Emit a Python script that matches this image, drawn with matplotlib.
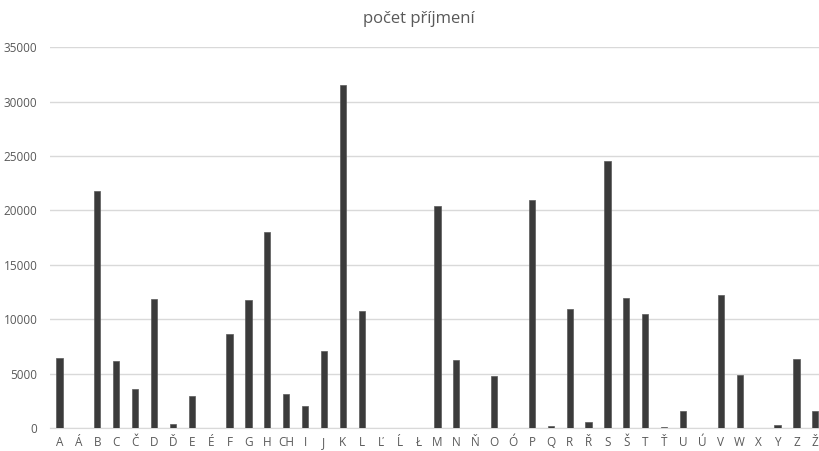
import numpy as np
import matplotlib.pyplot as plt

plt.rcParams['font.family'] = ['Open Sans', 'DejaVu Sans']

# pocet prijmeni podle pocatecniho pismene
pismena = ['A', 'Á', 'B', 'C', 'Č', 'D', 'Ď', 'E', 'É', 'F', 'G', 'H', 'CH', 'I', 'J',
           'K', 'L', 'Ľ', 'Ĺ', 'Ł', 'M', 'N', 'Ň', 'O', 'Ó', 'P', 'Q', 'R', 'Ř', 'S',
           'Š', 'T', 'Ť', 'U', 'Ú', 'V', 'W', 'X', 'Y', 'Z', 'Ž']
pocty = [6400, 0, 21800, 6150, 3550, 11850, 350, 2950, 0, 8670, 11730, 18000, 3100, 2000, 7050,
         31500, 10800, 0, 0, 0, 20430, 6250, 0, 4750, 0, 20920, 180, 10900, 520, 24570,
         11920, 10450, 90, 1560, 20, 12250, 4840, 0, 270, 6340, 1560]
yticky = [0, 5000, 10000, 15000, 20000, 25000, 30000, 35000]

seda = '#595959'

fig = plt.figure(figsize=(8.2, 4.51), dpi=100)
ax = fig.add_axes([50/820, 23/451, 774.8/820, 380.7/451])

x = np.arange(len(pismena))
ax.bar(x, pocty, width=0.33, color='#3b3b3b', edgecolor='#5a5a5a', linewidth=0.5, zorder=3)

ax.set_xlim(-0.5, len(pismena) - 0.5)
ax.set_ylim(0, 35000)
ax.set_yticks(yticky)
ax.set_yticklabels([str(v) for v in yticky])
ax.set_xticks(x)
ax.set_xticklabels(pismena)
ax.tick_params(axis='both', length=0, labelsize=8.5, colors=seda)
ax.tick_params(axis='y', pad=9)
ax.tick_params(axis='x', pad=6)

ax.grid(axis='y', color='#d9d9d9', linewidth=1, zorder=0)
for s in ['top', 'right', 'left']:
    ax.spines[s].set_visible(False)
ax.spines['bottom'].set_color('#d9d9d9')

fig.text(419/820, 1 - 19/451, 'počet příjmení', ha='center', va='center', fontsize=12, color=seda)

fig.savefig('out.png', dpi=100)
